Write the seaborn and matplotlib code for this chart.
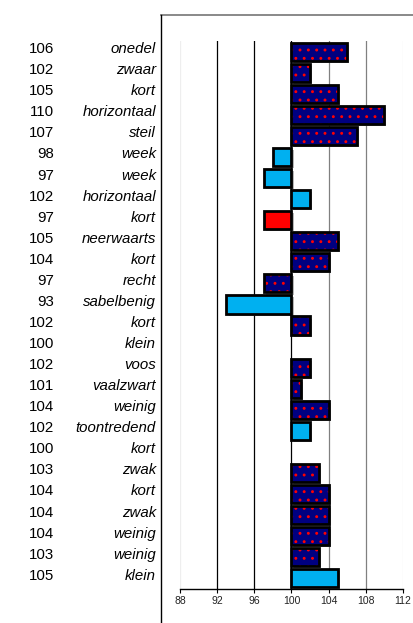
import numpy as np
import pandas as pd
import matplotlib
matplotlib.use("Agg")
import matplotlib.pyplot as plt
import seaborn as sns
from matplotlib.patches import Rectangle
from matplotlib.lines import Line2D
from matplotlib.ticker import FixedLocator, FuncFormatter
from matplotlib.transforms import blended_transform_factory, ScaledTranslation

# ---- data ----
baseline = 100
scores = [106, 102, 105, 110, 107, 98, 97, 102, 97, 105, 104, 97, 93,
          102, 100, 102, 101, 104, 102, 100, 103, 104, 104, 104, 103, 105]
traits = ["onedel", "zwaar", "kort", "horizontaal", "steil", "week", "week",
          "horizontaal", "kort", "neerwaarts", "kort", "recht", "sabelbenig",
          "kort", "klein", "voos", "vaalzwart", "weinig", "toontredend", "kort",
          "zwak", "kort", "zwak", "weinig", "weinig", "klein"]
kinds = ["n", "n", "n", "n", "n", "b", "b", "b", "r", "n", "n", "n", "b",
         "n", "n", "n", "n", "n", "b", "n", "n", "n", "n", "n", "n", "b"]
tick_values = [88, 92, 96, 100, 104, 108, 112]

# ---- styles ----
palette = {"n": "#000080", "b": "#00B0F0", "r": "#FF0000"}
grid_colors = ["#eeeeee", "#000000", "#000000", "#000000", "#808080", "#808080", "#eeeeee"]
plt.rcParams["font.family"] = ["Liberation Sans", "DejaVu Sans"]
plt.rcParams["hatch.linewidth"] = 0.9

df = pd.DataFrame({
    "row": [f"r{i}" for i in range(len(scores))],
    "dev": [s - baseline for s in scores],
    "kind": kinds,
})

fig = plt.figure(figsize=(4.14, 6.23), dpi=100)
ax = fig.add_axes([0.4348, 0.0549, 0.5386, 0.8790])

sns.barplot(data=df, x="dev", y="row", hue="kind", palette=palette, orient="h",
            width=0.86, dodge=False, legend=False, saturation=1, linewidth=0,
            ax=ax, zorder=2)

shadow_tr = ax.transData + ScaledTranslation(1.5 / 72, -1.5 / 72, fig.dpi_scale_trans)
for p in list(ax.patches):
    w = p.get_width()
    if abs(w) < 1e-9:
        p.set_visible(False)
        continue
    row = int(round(p.get_y() + p.get_height() / 2))
    if kinds[row] == "n":
        p.set_hatch("..")
        p.set_edgecolor("red")
        p.set_linewidth(0)
    xy = p.get_xy()
    h = p.get_height()
    sh = Rectangle(xy, w, h, facecolor="#999999", edgecolor="none", alpha=0.7,
                   transform=shadow_tr, zorder=1.5)
    ax.add_patch(sh)
    ed = Rectangle(xy, w, h, fill=False, edgecolor="black", linewidth=2.0, zorder=3)
    ax.add_patch(ed)

# vertical grid lines
for tv, gc in zip(tick_values, grid_colors):
    ax.axvline(tv - baseline, color=gc, lw=0.9, zorder=0.5)

ax.set_xlim(tick_values[0] - baseline, tick_values[-1] - baseline)
ax.set_ylim(len(scores) - 0.5, -0.5)
ax.xaxis.set_major_locator(FixedLocator([t - baseline for t in tick_values]))
ax.xaxis.set_major_formatter(FuncFormatter(lambda v, _: f"{v + baseline:.0f}"))
ax.tick_params(axis="x", direction="out", length=3, width=0.8, labelsize=7.5,
               pad=2, colors="black", labelcolor="#222222")
ax.set_yticks([])
ax.set_xlabel("")
ax.set_ylabel("")
for s in ["left", "top", "right"]:
    ax.spines[s].set_visible(False)
ax.spines["bottom"].set_linewidth(1.0)
ax.spines["bottom"].set_color("black")
ax.patch.set_alpha(0)

# left labels
trans = blended_transform_factory(fig.transFigure, ax.transData)
for i, (s, t) in enumerate(zip(scores, traits)):
    ax.text(0.1304, i - 0.12, str(s), transform=trans, ha="right", va="center",
            fontsize=10.8, color="black", clip_on=False)
    ax.text(0.3768, i - 0.12, t, transform=trans, ha="right", va="center",
            fontsize=10.8, style="italic", color="black", clip_on=False)

# outer frame
fig.add_artist(Line2D([161 / 414, 1.0], [1 - 15 / 623] * 2, color="#808080",
                      lw=1.3, transform=fig.transFigure))
fig.add_artist(Line2D([161 / 414] * 2, [0.0, 1 - 15 / 623], color="black",
                      lw=1.0, transform=fig.transFigure))

fig.savefig("out.png", dpi=100)
